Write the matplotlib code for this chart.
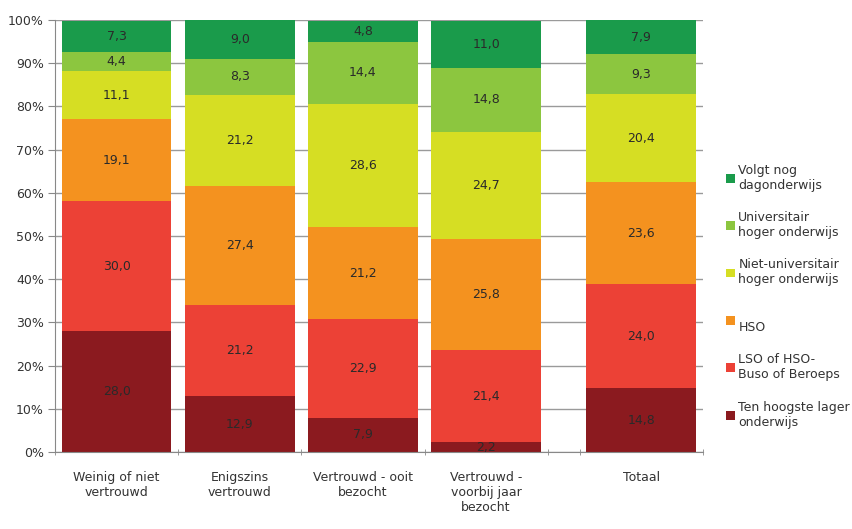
import matplotlib
matplotlib.use("Agg")
import matplotlib.pyplot as plt
import numpy as np

categories = ["Weinig of niet\nvertrouwd", "Enigszins\nvertrouwd", "Vertrouwd - ooit\nbezocht",
              "Vertrouwd -\nvoorbij jaar\nbezocht", "Totaal"]
series_names = ["Ten hoogste lager\nonderwijs", "LSO of HSO-\nBuso of Beroeps", "\nHSO",
                "Niet-universitair\nhoger onderwijs", "Universitair\nhoger onderwijs", "Volgt nog\ndagonderwijs"]
ten_hoogste = [28.0, 12.9, 7.9, 2.2, 14.8]
lso_hso = [30.0, 21.2, 22.9, 21.4, 24.0]
hso = [19.1, 27.4, 21.2, 25.8, 23.6]
niet_univ = [11.1, 21.2, 28.6, 24.7, 20.4]
univ = [4.4, 8.3, 14.4, 14.8, 9.3]
volgt_nog = [7.3, 9.0, 4.8, 11.0, 7.9]
colors = ["#8B1A1F", "#EC4136", "#F4921F", "#D6DE23", "#8CC63F", "#1A9B4B"]

series = [ten_hoogste, lso_hso, hso, niet_univ, univ, volgt_nog]

fig = plt.figure(figsize=(8.53, 5.29), dpi=100)
ax = fig.add_axes([0.0645, 0.1456, 0.7595, 0.8164])

x = np.array([0.5, 1.5, 2.5, 3.5, 4.76])
width = 0.89
bottom = np.zeros(len(categories))
for vals, col, name in zip(series, colors, series_names):
    vals = np.array(vals)
    ax.bar(x, vals, width, bottom=bottom, color=col, label=name, zorder=2)
    for xi, b, v in zip(x, bottom, vals):
        ax.text(xi, b + v / 2, f"{v:.1f}".replace(".", ","), ha="center", va="center",
                fontsize=9, color="#2a2a2a", zorder=3)
    bottom += vals

ax.set_xlim(0, 5.26)
ax.set_ylim(0, 100)
ax.set_yticks(np.arange(0, 101, 10))
ax.set_yticklabels([f"{v}%" for v in range(0, 101, 10)], fontsize=9, color="#333333")
ax.yaxis.grid(True, color="#9a9a9a", linewidth=1, zorder=0)
ax.set_axisbelow(True)
ax.tick_params(axis="y", length=5, color="#888888", pad=3)

ax.set_xticks(x)
ax.set_xticklabels(categories, fontsize=9, color="#333333")
ax.tick_params(axis="x", which="major", length=0, pad=14)
ax.set_xticks([0, 1, 2, 3, 4, 4.26, 5.26], minor=True)
ax.tick_params(axis="x", which="minor", length=5, color="#888888", direction="inout")

for s in ["top", "right"]:
    ax.spines[s].set_visible(False)
for s in ["left", "bottom"]:
    ax.spines[s].set_color("#888888")

handles, labels = ax.get_legend_handles_labels()
leg = fig.legend(handles[::-1], labels[::-1], loc="upper left", bbox_to_anchor=(0.845, 0.70),
                 frameon=False, fontsize=9, handlelength=0.7, handleheight=0.7,
                 handletextpad=0.3, labelspacing=1.55, borderaxespad=0)
for t in leg.get_texts():
    t.set_color("#333333")

fig.savefig("out.png", dpi=100)
